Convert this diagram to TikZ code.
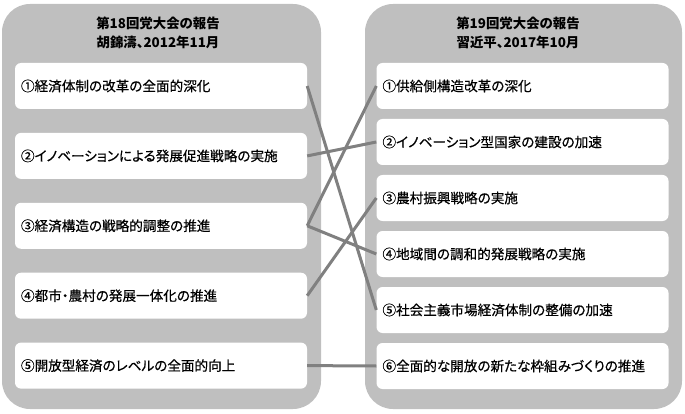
\documentclass[tikz,border=0pt]{standalone}
\usepackage{fontspec}
\setmainfont[CharacterWidth=AlternateProportional]{Noto Sans CJK JP}
\newfontfamily\itemfont[CharacterWidth=AlternateProportional, FakeBold=0.5]{Noto Sans CJK JP}
\usetikzlibrary{positioning}

\definecolor{panelgray}{HTML}{BFBFBF}
\definecolor{linkgray}{HTML}{808080}

\begin{document}
\begin{tikzpicture}[x=1pt,y=-1pt,
  panel/.style={fill=panelgray, rounded corners=28pt},
  item/.style={fill=white, rounded corners=6pt, minimum height=46pt, text width=280pt, inner xsep=6pt, align=left, font=\fontsize{13.6}{16}\itemfont},
  heading/.style={align=center, font=\fontsize{13.4}{18.5}\selectfont\bfseries},
  link/.style={draw=linkgray, line width=3pt}]
\useasboundingbox (0,0) rectangle (685,414);
  % panels
  \fill[panel] (2,4) rectangle (321,409);
  \fill[panel] (365,4) rectangle (682,409);
  % headings
  \node[heading] (h18) at (158,33) {第18回党大会の報告\\胡錦濤、2012年11月};
  \node[heading] (h19) at (518,33) {第19回党大会の報告\\習近平、2017年10月};
  % 18th congress
  \node[item] (l1) at (161,86) {①経済体制の改革の全面的深化};
  \node[item, below=23.5pt of l1] (l2) {②イノベーションによる発展促進戦略の実施};
  \node[item, below=23.5pt of l2] (l3) {③経済構造の戦略的調整の推進};
  \node[item, below=23.5pt of l3] (l4) {④都市・農村の発展一体化の推進};
  \node[item, below=23.5pt of l4] (l5) {⑤開放型経済のレベルの全面的向上};
  % 19th congress
  \node[item] (r1) at (522.5,86) {①供給側構造改革の深化};
  \node[item, below=9.6pt of r1] (r2) {②イノベーション型国家の建設の加速};
  \node[item, below=9.6pt of r2] (r3) {③農村振興戦略の実施};
  \node[item, below=9.6pt of r3] (r4) {④地域間の調和的発展戦略の実施};
  \node[item, below=9.6pt of r4] (r5) {⑤社会主義市場経済体制の整備の加速};
  \node[item, below=9.6pt of r5] (r6) {⑥全面的な開放の新たな枠組みづくりの推進};
  % links
  \draw[link] (l1.east) -- (r5.west);
  \draw[link] (l2.east) -- (r2.west);
  \draw[link] (l3.east) -- (r1.west);
  \draw[link] (l3.east) -- (r4.west);
  \draw[link] (l4.east) -- (r3.west);
  \draw[link] (l5.east) -- (r6.west);
\end{tikzpicture}
\end{document}
